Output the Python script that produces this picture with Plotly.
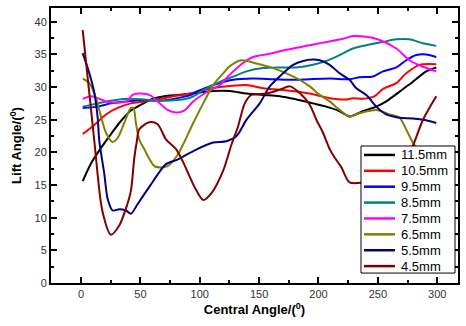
import plotly.graph_objects as go

# ---- data ----
x_115 = [1.4, 8.4, 15.4, 25.2, 33.6, 42, 50.5, 58.9, 70.1, 81.3, 92.5, 111.3, 125.3, 139.4, 153.4, 167.4, 181.4, 195.4, 206.6, 217.8, 226.2, 237.4, 248.7, 257.1, 268.3, 279.5, 290.7, 299.2]
y_115 = [15.6, 18.3, 20.3, 22.8, 24.8, 26.4, 27.3, 28.1, 28.6, 28.8, 29.0, 29.4, 29.4, 29.0, 28.8, 28.6, 28.1, 27.5, 27.0, 26.3, 25.5, 26.3, 27.0, 27.8, 29.3, 30.8, 32.4, 33.0]

x_105 = [1.4, 11.2, 21, 30.8, 42, 53.2, 67.2, 81.3, 92.5, 97.3, 116.9, 128.1, 139.4, 153.4, 167.4, 181.4, 192.6, 209.4, 223.5, 229, 237.4, 247.3, 254.3, 265.5, 273.9, 285.1, 299.2]
y_105 = [22.8, 24.2, 25.8, 26.8, 27.5, 27.8, 28.2, 28.7, 29.0, 29.3, 30.0, 30.2, 30.3, 29.8, 29.6, 29.3, 29.0, 28.3, 28.1, 28.3, 28.2, 28.6, 29.7, 30.6, 32.1, 33.4, 33.5]

x_95 = [1.4, 14, 25.2, 39.2, 53.2, 67.2, 81.3, 92.5, 97.3, 111.3, 128.1, 144.9, 161.7, 181.4, 192.6, 209.4, 226.2, 234.6, 245.8, 254.3, 265.5, 273.9, 282.3, 290.7, 299.2]
y_95 = [26.8, 27.0, 27.5, 27.8, 28.0, 27.9, 28.3, 28.8, 29.3, 30.3, 31.1, 31.3, 31.2, 31.1, 31.2, 31.3, 31.2, 31.5, 31.6, 32.4, 33.0, 34.1, 34.9, 35.0, 34.6]

x_85 = [1.4, 14, 25.2, 39.2, 53.2, 67.2, 81.3, 92.5, 105.7, 116.9, 128.1, 139.4, 153.4, 167.4, 181.4, 195.4, 206.6, 217.8, 229, 240.3, 254.3, 265.5, 276.7, 287.9, 299.2]
y_85 = [27.0, 27.5, 27.9, 28.2, 28.1, 27.9, 28.0, 28.4, 29.8, 30.8, 31.6, 32.4, 32.9, 33.0, 33.0, 33.4, 34.0, 34.9, 35.9, 36.4, 36.9, 37.3, 37.3, 36.7, 36.3]

x_75 = [1.4, 8.4, 14, 21, 30.8, 39.2, 43.4, 50.5, 58.9, 64.5, 72.9, 79.9, 86.9, 94.5, 105.7, 116.9, 125.3, 135.1, 144.9, 159, 173, 187, 203.8, 220.6, 229, 240.3, 251.5, 265.5, 276.7, 287.9, 299.2]
y_75 = [28.2, 28.6, 28.3, 27.8, 27.6, 27.9, 28.8, 29.0, 28.7, 27.8, 26.5, 26.1, 26.4, 27.8, 29.2, 30.3, 31.9, 33.5, 34.6, 35.1, 35.7, 36.2, 36.8, 37.4, 37.8, 37.7, 37.2, 35.9, 34.1, 33.1, 32.4]

x_65 = [1.4, 7, 12.6, 16.8, 21, 26.6, 30.8, 36.4, 42, 44.2, 46.2, 49, 53.2, 61.7, 67.3, 72.9, 81.3, 94.5, 102.9, 111.3, 119.7, 125.3, 135.1, 147.8, 161.7, 173, 184.2, 192.6, 201, 209.4, 217.8, 226.2, 234.6, 248.7, 259.9, 268.3, 273.9, 279.5, 290, 300]
y_65 = [31.3, 30.6, 28.3, 25.5, 23.0, 21.6, 22.2, 24.5, 26.8, 26.8, 24.5, 22.0, 20.5, 17.9, 17.7, 17.9, 19.6, 24.5, 27.5, 30.3, 32.1, 33.2, 34.1, 33.6, 32.9, 32.1, 31.1, 30.1, 28.8, 27.8, 26.5, 25.5, 26.0, 26.5, 25.8, 25.3, 23.5, 21.5, 19.0, 18.0]

x_55 = [1.4, 7, 11.2, 14, 15.4, 19.6, 22.4, 26.6, 32.2, 37.8, 42, 47.7, 58.9, 64.5, 71.5, 81.3, 94.5, 111.3, 122.5, 131, 139.4, 150.5, 159, 170.1, 178.6, 187, 195.4, 201, 209.4, 217.8, 226.2, 231.9, 240.3, 248.7, 257.1, 268.3, 279.5, 290.7, 299.2]
y_55 = [35.2, 32.1, 29.1, 25.3, 21.7, 16.7, 12.9, 11.1, 11.3, 11.1, 10.6, 12.1, 15.1, 16.6, 18.2, 18.9, 20.2, 21.5, 21.7, 22.5, 25.0, 27.5, 30.1, 32.1, 33.4, 34.0, 34.2, 34.1, 33.4, 32.1, 31.1, 29.8, 28.8, 27.0, 25.8, 25.3, 25.2, 24.9, 24.5]

x_45 = [1.4, 11.2, 18, 25.2, 32.2, 38, 42, 44.9, 47, 49, 57.4, 64.5, 71.5, 80, 86, 95.9, 102.9, 110, 119.7, 126.7, 132.3, 137.9, 143.5, 156.2, 167.4, 175.8, 184.2, 192.6, 198.2, 203.8, 209.4, 213.6, 219.3, 226.2, 240, 252, 262, 272, 279.5, 288, 299.2]
y_45 = [38.7, 21.7, 11.0, 7.4, 8.8, 11.5, 14.1, 19.2, 21.7, 23.5, 24.6, 24.3, 22.0, 20.5, 18.5, 14.6, 12.7, 13.8, 17.2, 21.2, 24.0, 27.5, 28.8, 29.0, 29.6, 30.1, 29.1, 27.3, 25.0, 23.0, 20.5, 19.2, 17.7, 15.4, 15.4, 15.4, 16.0, 18.5, 21.0, 25.0, 28.6]

names = ["11.5mm", "10.5mm", "9.5mm", "8.5mm", "7.5mm", "6.5mm", "5.5mm", "4.5mm"]
colors = ["#000000", "#FF0000", "#0000FF", "#008080", "#FF00FF", "#808000", "#000080", "#800000"]
xs = [x_115, x_105, x_95, x_85, x_75, x_65, x_55, x_45]
ys = [y_115, y_105, y_95, y_85, y_75, y_65, y_55, y_45]

W, H = 466, 326
ML, MR, MT, MB = 51, 8, 6, 43
PW, PH = W - ML - MR, H - MT - MB

def px2paper_x(px):
    return (px - ML) / PW

def px2paper_y(py):
    return (H - MB - py) / PH

fig = go.Figure()
for n, c, xv, yv in zip(names, colors, xs, ys):
    fig.add_trace(go.Scatter(x=xv, y=yv, mode="lines", name=n, showlegend=False,
                             line=dict(color=c, width=2, shape="spline", smoothing=0.8)))

# compact boxed legend (Origin style), drawn above the lines
shapes = [dict(type="rect", xref="paper", yref="paper", layer="above",
               x0=px2paper_x(361), x1=px2paper_x(455),
               y0=px2paper_y(273), y1=px2paper_y(145),
               fillcolor="white", line=dict(color="black", width=1))]
annotations = []
for i, (n, c) in enumerate(zip(names, colors)):
    yc = px2paper_y(154 + 16 * i)
    shapes.append(dict(type="line", xref="paper", yref="paper", layer="above",
                       x0=px2paper_x(364), x1=px2paper_x(395), y0=yc, y1=yc,
                       line=dict(color=c, width=2.5)))
    annotations.append(dict(xref="paper", yref="paper", x=px2paper_x(399), y=yc,
                            xanchor="left", yanchor="middle", showarrow=False,
                            text=n, font=dict(size=13, color="#000000")))

font_family = "Liberation Sans, Arial, sans-serif"
fig.update_layout(
    width=W, height=H,
    margin=dict(l=ML, r=MR, t=MT, b=MB),
    paper_bgcolor="white", plot_bgcolor="white",
    font=dict(family=font_family, color="#222222"),
    showlegend=False,
    shapes=shapes, annotations=annotations,
)
fig.update_xaxes(
    range=[-25.3, 317.5], tickmode="linear", tick0=0, dtick=50,
    ticks="inside", ticklen=6, tickwidth=1.5, tickcolor="#000000",
    showline=True, linecolor="#000000", linewidth=2, mirror="ticks",
    showgrid=False, zeroline=False,
    minor=dict(dtick=25, tick0=0, ticks="inside", ticklen=3, tickcolor="#000000", tickwidth=1.5),
    tickfont=dict(size=11, color="#333333"),
    title=dict(text="<b>Central Angle/(<sup>0</sup>)</b>", font=dict(size=13, color="#000000"), standoff=6),
)
fig.update_yaxes(
    range=[0, 42.1], tickmode="linear", tick0=0, dtick=5,
    ticks="inside", ticklen=6, tickwidth=1.5, tickcolor="#000000",
    showline=True, linecolor="#000000", linewidth=2, mirror="ticks",
    showgrid=False, zeroline=False,
    minor=dict(dtick=2.5, tick0=0, ticks="inside", ticklen=3, tickcolor="#000000", tickwidth=1.5),
    tickfont=dict(size=11, color="#333333"),
    title=dict(text="<b>Lift Angle/(<sup>0</sup>)</b>", font=dict(size=13, color="#000000"), standoff=10),
)

fig.write_html("out.html")
